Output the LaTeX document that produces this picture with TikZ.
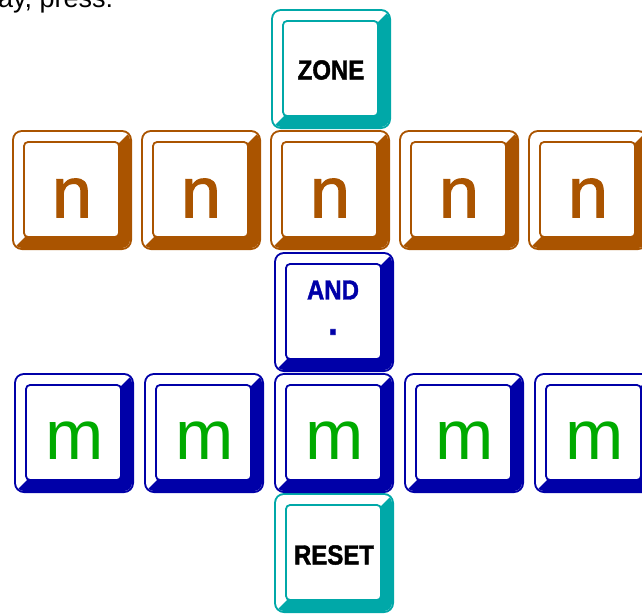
\documentclass[tikz,border=0pt]{standalone}
\usepackage{fontspec}
\setmainfont{Liberation Sans}
\newfontfamily\capfont[FakeBold=1.6]{Liberation Sans Bold}
\newfontfamily\letterfont[FakeBold=1.4]{Liberation Sans}
\usepackage{xcolor}
\usepackage{tikz}
\usetikzlibrary{positioning}

\definecolor{keybrown}{RGB}{170,84,0}
\definecolor{keyteal}{RGB}{0,168,168}
\definecolor{keyblue}{RGB}{0,0,168}
\definecolor{keygreen}{RGB}{0,170,0}

\begin{document}
\begin{tikzpicture}[
			x=1pt, y=-1pt,
			pics/keycap/.style={
				code={
					\fill[#1, rounded corners=10pt] (-60,-60) rectangle (60,60);
					\begin{scope}
						\clip[rounded corners=8pt] (-58,-58) rectangle (58,58);
						\fill[white] (-58,-58) rectangle (58,58);
						\fill[#1] (48,-48) -- (80,-80) -- (80,80) -- (-80,80) -- (-48,48) -- cycle;
					\end{scope}
					\node[draw=#1, fill=white, line width=1.8pt, rounded corners=4pt,
						minimum size=95pt, inner sep=0pt] (-face) at (-0.5,-0.5) {};
				}
			},
			ntext/.style={text=keybrown, font=\letterfont\fontsize{72}{72}\selectfont},
			mtext/.style={text=keygreen, font=\fontsize{70}{70}\selectfont},
			captext/.style={font=\capfont\fontsize{24}{24}\selectfont, yscale=1.15, transform shape}
			]
			
			\useasboundingbox (0,0) rectangle (642,613);
			
			\node[anchor=base west, inner sep=0pt, font=\fontsize{27}{27}\selectfont] (intro) at (-2,7) {ay, press:};
			
			% top and bottom keys
			\pic (zone)  at (331,69)  {keycap=keyteal};
			\pic (and)   at (334,312) {keycap=keyblue};
			\pic (reset) at (334,553) {keycap=keyteal};
			
			% n row
			\pic (n1) at (72,190)  {keycap=keybrown};
			\pic (n2) at (201,190) {keycap=keybrown};
			\pic (n3) at (330,190) {keycap=keybrown};
			\pic (n4) at (459,190) {keycap=keybrown};
			\pic (n5) at (588,190) {keycap=keybrown};
			
			% m row
			\pic (m1) at (74,433)  {keycap=keyblue};
			\pic (m2) at (204,433) {keycap=keyblue};
			\pic (m3) at (334,433) {keycap=keyblue};
			\pic (m4) at (464,433) {keycap=keyblue};
			\pic (m5) at (594,433) {keycap=keyblue};
			
			\path
			(331,70)  node [captext] (zonetxt) {ZONE}
			(333,290) node [captext, text=keyblue] (andtxt) {AND}
			(333,332) node [captext, text=keyblue, font=\capfont\fontsize{32}{32}\selectfont] (anddot) {.}
			(334,555) node [captext] (resettxt) {RESET};
			
			\path
			(72,198)  node [ntext] (n1txt) {n}
			(201,198) node [ntext] (n2txt) {n}
			(330,198) node [ntext] (n3txt) {n}
			(459,198) node [ntext] (n4txt) {n}
			(588,198) node [ntext] (n5txt) {n};
			
			\path
			(75,441)  node [mtext] (m1txt) {m}
			(205,441) node [mtext] (m2txt) {m}
			(335,441) node [mtext] (m3txt) {m}
			(465,441) node [mtext] (m4txt) {m}
			(595,441) node [mtext] (m5txt) {m};
		\end{tikzpicture}
\end{document}
